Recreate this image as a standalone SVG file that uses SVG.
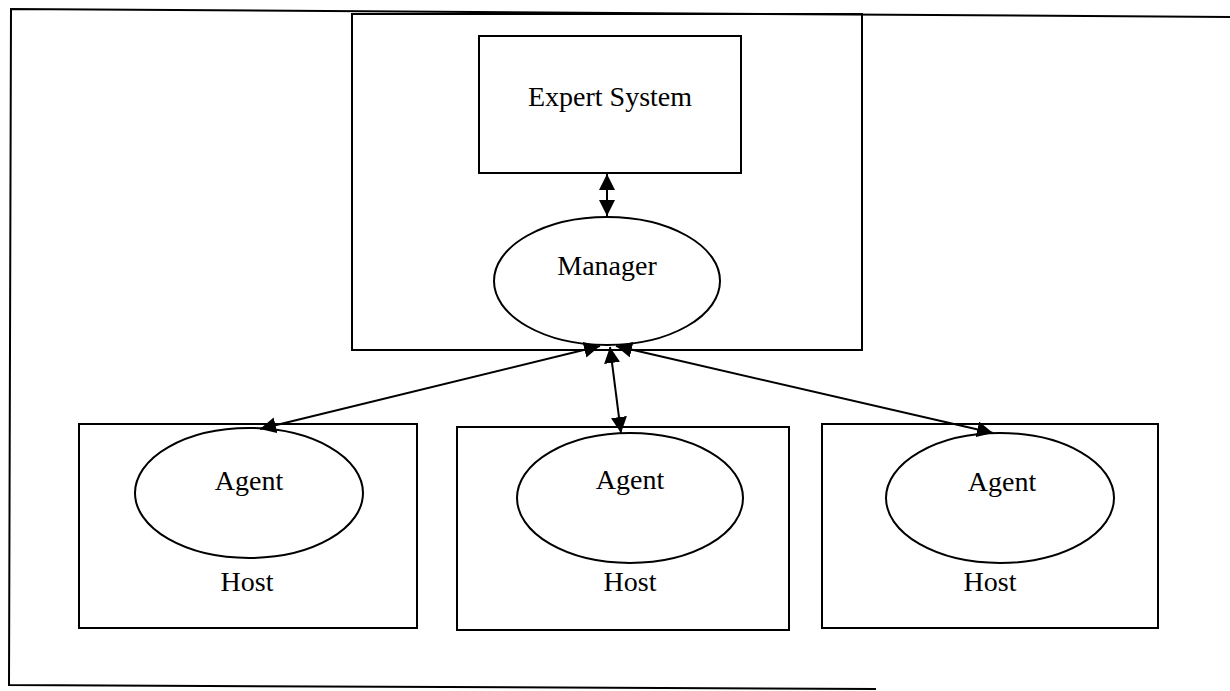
<svg xmlns="http://www.w3.org/2000/svg" width="1230" height="691" viewBox="0 0 1230 691">
<style>
.box{fill:none;stroke:#000;stroke-width:2}
.ell{fill:#fff;stroke:#000;stroke-width:2}
.lbl{font-family:"Liberation Serif","Times New Roman",serif;font-size:28px;fill:#000;text-anchor:middle}
.con{stroke:#000;stroke-width:2;fill:none;marker-start:url(#ah);marker-end:url(#ah)}
</style>
<defs>
<marker id="ah" viewBox="0 0 10 10" refX="10" refY="5" markerWidth="8" markerHeight="8" markerUnits="strokeWidth" orient="auto-start-reverse">
<path d="M0,0 L10,5 L0,10 Z" fill="#000"/>
</marker>
</defs>
<rect width="1230" height="691" fill="#fff"/>
<g id="frame">
<path d="M1230,17 L11,9 L9,685 L876,689" class="box"/>
</g>
<g id="manager-host">
<rect x="352" y="14" width="510" height="336" class="box"/>
</g>
<g id="expert-system">
<rect x="479" y="36" width="262" height="137" class="box"/>
<text x="610" y="106" class="lbl">Expert System</text>
</g>
<g id="manager">
<ellipse cx="607" cy="281" rx="113" ry="64" class="ell"/>
<text x="607" y="275" class="lbl">Manager</text>
</g>
<g id="host1">
<rect x="79" y="424" width="338" height="204" class="box"/>
<text x="247" y="591" class="lbl">Host</text>
</g>
<g id="agent1">
<ellipse cx="249" cy="493" rx="114" ry="65" class="ell"/>
<text x="249" y="490" class="lbl">Agent</text>
</g>
<g id="host2">
<rect x="457" y="427" width="332" height="203" class="box"/>
<text x="630" y="591" class="lbl">Host</text>
</g>
<g id="agent2">
<ellipse cx="630" cy="498" rx="113" ry="65" class="ell"/>
<text x="630" y="489" class="lbl">Agent</text>
</g>
<g id="host3">
<rect x="822" y="424" width="336" height="204" class="box"/>
<text x="990" y="591" class="lbl">Host</text>
</g>
<g id="agent3">
<ellipse cx="1000" cy="498" rx="114" ry="65" class="ell"/>
<text x="1002" y="491" class="lbl">Agent</text>
</g>
<g id="connectors">
<line x1="607" y1="174" x2="607" y2="216" class="con"/>
<line x1="600" y1="346" x2="260" y2="429" class="con"/>
<line x1="610" y1="347" x2="621" y2="433" class="con"/>
<line x1="616" y1="346" x2="993" y2="433" class="con"/>
</g>
</svg>
